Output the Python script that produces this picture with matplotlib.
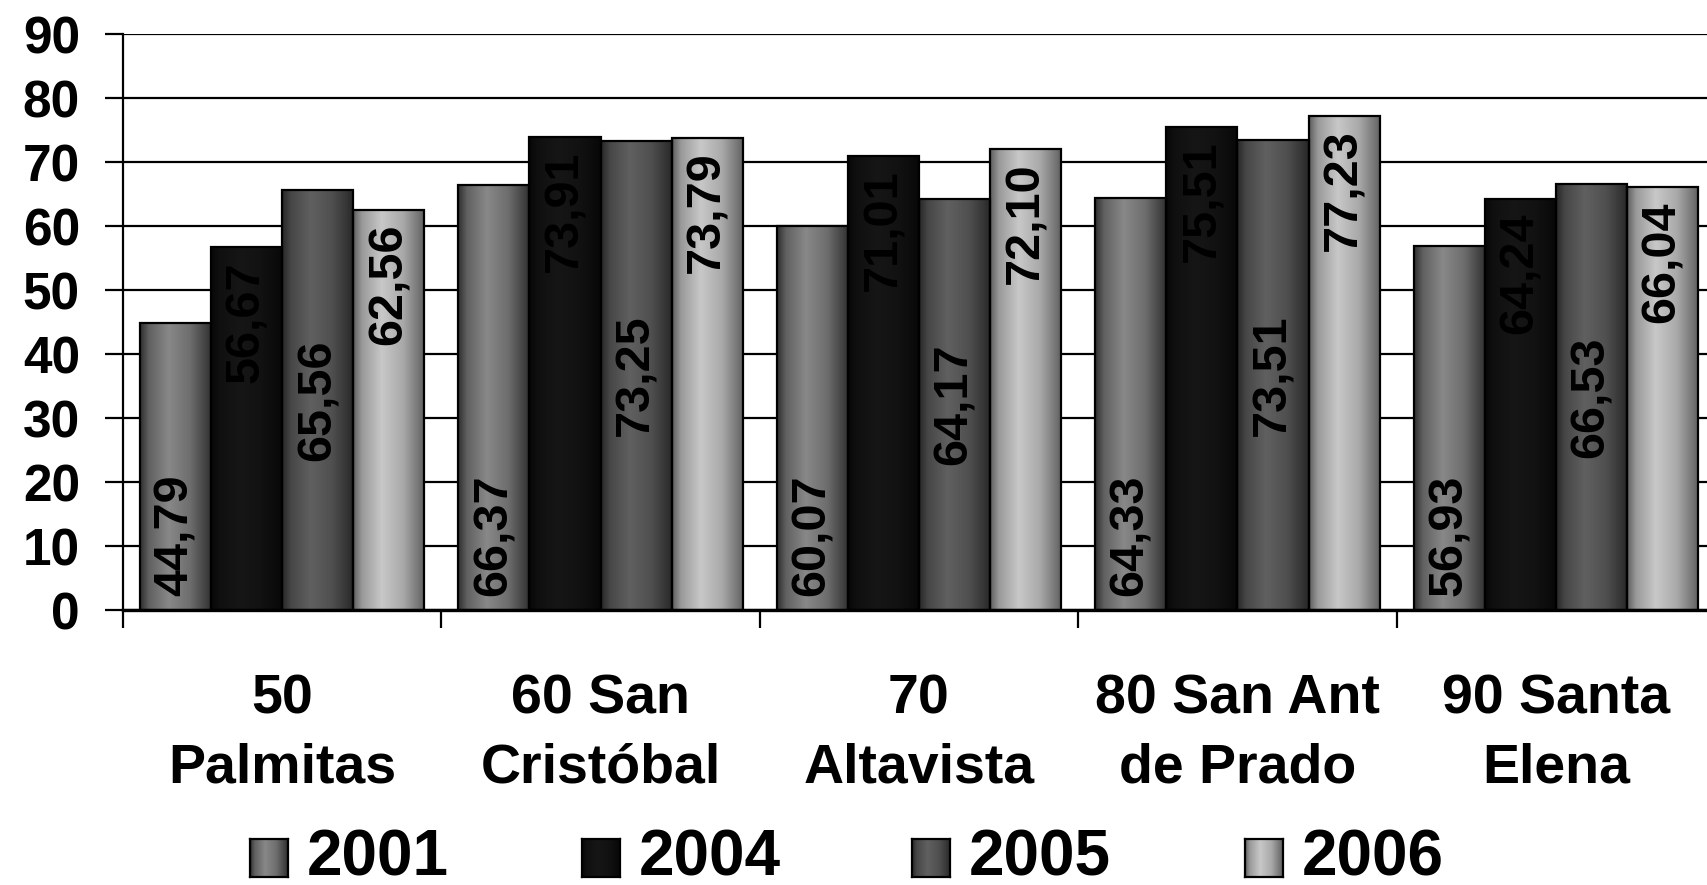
import numpy as np
import matplotlib
matplotlib.use('Agg')
import matplotlib.pyplot as plt
from matplotlib.patches import Rectangle

plt.rcParams['font.family'] = ['Liberation Sans', 'DejaVu Sans']
plt.rcParams['font.weight'] = 'bold'

# Values (comma is the decimal mark in the labels)
categories = ['50\nPalmitas', '60 San\nCristóbal', '70\nAltavista',
              '80 San Ant\nde Prado', '90 Santa\nElena']
years = ['2001', '2004', '2005', '2006']
v2001 = [44.79, 66.37, 60.07, 64.33, 56.93]
v2004 = [56.67, 73.91, 71.01, 75.51, 64.24]
v2005 = [65.56, 73.25, 64.17, 73.51, 66.53]
v2006 = [62.56, 73.79, 72.10, 77.23, 66.04]
series = [v2001, v2004, v2005, v2006]

# gray levels (edge, highlight) of the cylinder-like shading per year
shades = [(0x30, 0x88), (0x08, 0x16), (0x28, 0x60), (0x60, 0xc8)]
# where the value label sits inside the bar
label_pos = ['base', 'end', 'center', 'end']


def gradient(edge, peak, n=64):
    t = np.linspace(0, 1, n)
    prof = np.interp(t, [0, 0.12, 0.4, 0.7, 0.92, 1], [0, 0.55, 1, 0.7, 0.2, 0])
    g = (edge + (peak - edge) * prof) / 255.0
    return np.dstack([g, g, g])


W, H = 1708, 885
fig = plt.figure(figsize=(W / 100, H / 100), dpi=100)
ax = fig.add_axes([123 / W, 275 / H, (1715 - 123) / W, 576 / H])

bw = 0.2234
x = np.arange(len(categories))
for j, vals in enumerate(series):
    edge, peak = shades[j]
    img = gradient(edge, peak)
    for i, v in enumerate(vals):
        x0 = i + 0.5 + (j - 2) * bw
        ax.imshow(img, extent=(x0, x0 + bw, 0, v), aspect='auto',
                  interpolation='bilinear', zorder=2)
        ax.add_patch(Rectangle((x0, 0), bw, v, facecolor='none',
                               edgecolor='black', lw=1.6, zorder=3))
        txt = f'{v:.2f}'.replace('.', ',')
        xc = x0 + bw / 2
        if label_pos[j] == 'base':
            ax.annotate(txt, (xc, 0), xytext=(0, 10), textcoords='offset points',
                        rotation=90, ha='center', va='bottom', fontsize=35,
                        fontweight='bold', color='black', zorder=4)
        elif label_pos[j] == 'end':
            ax.annotate(txt, (xc, v), xytext=(0, -10), textcoords='offset points',
                        rotation=90, ha='center', va='top', fontsize=35,
                        fontweight='bold', color='black', zorder=4)
        else:
            ax.text(xc, v / 2, txt, rotation=90, ha='center', va='center',
                    fontsize=35, fontweight='bold', color='black', zorder=4)

ax.set_xlim(0, len(categories))
ax.set_ylim(0, 90)
ax.set_yticks(np.arange(0, 91, 10))
ax.yaxis.grid(True, color='black', lw=1.6)
ax.set_axisbelow(True)
ax.tick_params(axis='y', length=13, width=1.6, pad=18, labelsize=37)

ax.set_xticks(np.arange(len(categories) + 1))
ax.set_xticklabels([])
ax.set_xticks(x + 0.5, minor=True)
ax.set_xticklabels(categories, minor=True, fontsize=40, fontweight='bold',
                   linespacing=1.42)
ax.tick_params(axis='x', which='major', length=13, width=1.6)
ax.tick_params(axis='x', which='minor', length=0, pad=46)

for s in ['top', 'right']:
    ax.spines[s].set_visible(False)
ax.spines['left'].set_linewidth(1.6)
ax.spines['bottom'].set_linewidth(2.4)

# legend drawn by hand so the keys keep the shaded look
leg_x = [250, 582, 912, 1245]
for j, yr in enumerate(years):
    edge, peak = shades[j]
    kx = leg_x[j]
    kax = fig.add_axes([kx / W, 8 / H, 38 / W, 38 / H])
    kax.imshow(gradient(edge, peak), aspect='auto', extent=(0, 1, 0, 1),
               interpolation='bilinear')
    kax.set_xticks([])
    kax.set_yticks([])
    for s in kax.spines.values():
        s.set_linewidth(1.6)
    fig.text((kx + 57) / W, 27 / H, yr, fontsize=46, fontweight='bold',
             va='center', ha='left')

fig.savefig('out.png', dpi=100)
